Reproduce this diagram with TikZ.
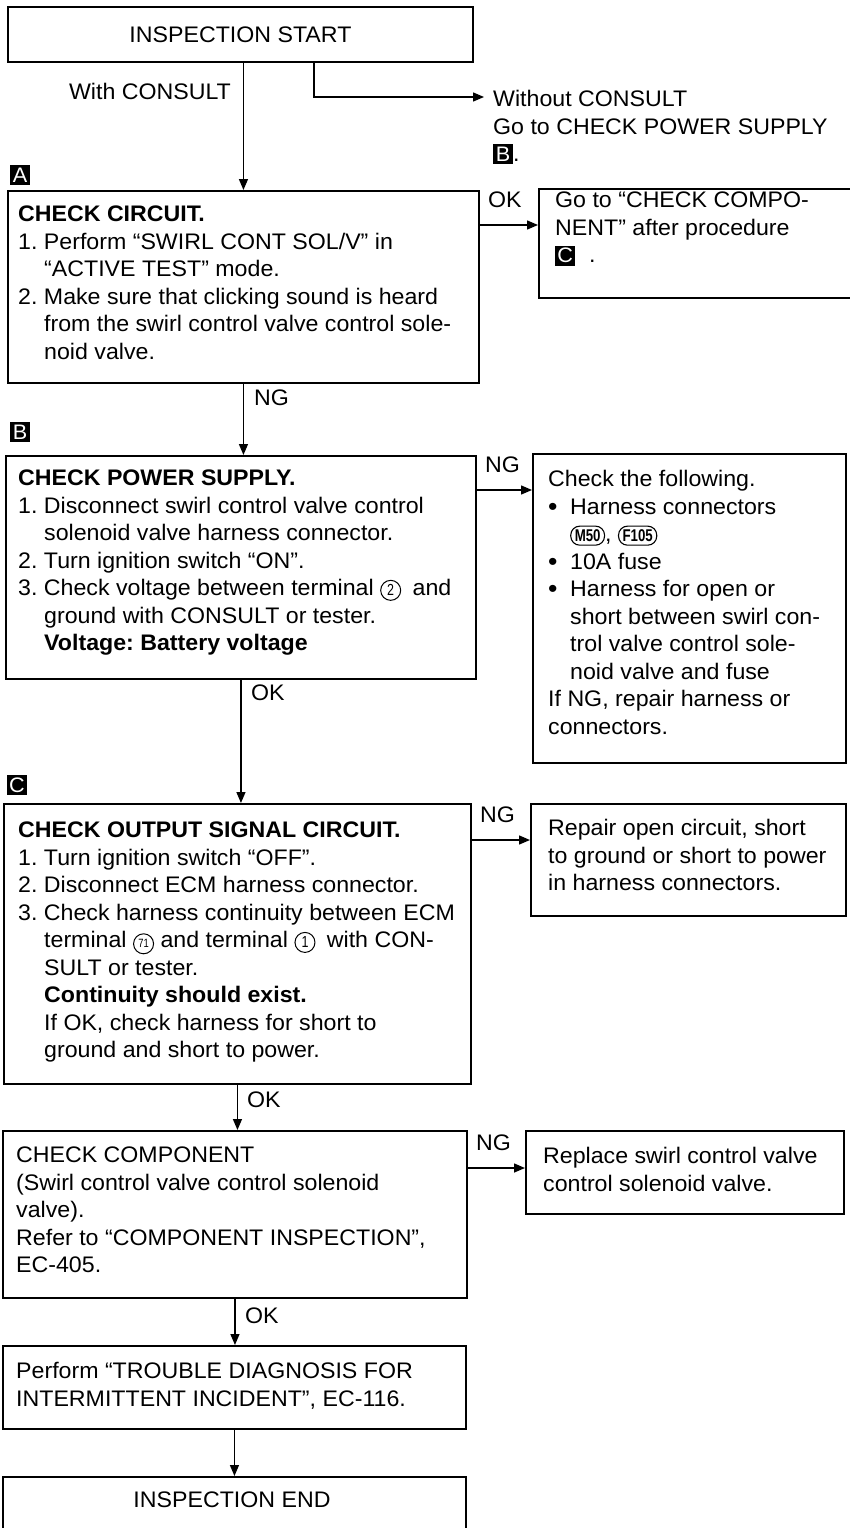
\documentclass[tikz,border=0pt]{standalone}
\usepackage{fontspec}
\setmainfont{Liberation Sans}[FakeStretch=1.03]
\newfontfamily\condfont{Liberation Sans}[FakeStretch=0.78]
\usetikzlibrary{arrows.meta,calc}

\newcommand{\cnum}[2][16]{\tikz[baseline=(cnumnode.base)]\node[draw,circle,line width=1pt,inner sep=0pt,minimum size=20pt,font=\condfont\fontsize{#1}{#1}\selectfont](cnumnode){#2};}
\newcommand{\conn}[1]{\tikz[baseline=(connnode.base)]\node[draw,rounded corners=9pt,line width=1.1pt,inner xsep=4pt,inner ysep=3.5pt,font=\condfont\bfseries\fontsize{17}{17}\selectfont](connnode){#1};}
\newcommand{\lbl}[1]{\tikz[baseline=(lblnode.base)]\node[fill=black,text=white,minimum size=20pt,inner sep=0pt,font=\fontsize{21}{21}\selectfont](lblnode){#1};}
\newcommand{\bul}{\makebox[22pt][l]{\raisebox{-1pt}{\fontsize{26}{26}\selectfont•}}}
\newcommand{\ind}{\hspace*{26pt}}
\newcommand{\bind}{\hspace*{22pt}}

\begin{document}
\frenchspacing
\begin{tikzpicture}[x=1pt,y=1pt,
  box/.style={draw,line width=1.9pt,anchor=north west,inner sep=0pt},
  txt/.style={anchor=north west,inner sep=0pt,align=left,font=\frenchspacing\fontsize{22.5}{27.5}\selectfont},
  lab/.style={anchor=west,inner sep=0pt,font=\fontsize{22.5}{27.5}\selectfont},
  ctr/.style={inner sep=0pt,font=\fontsize{22.5}{27.5}\selectfont},
  arr/.style={line width=1.4pt,-{Triangle[length=11pt,width=9pt]}},
  sq/.style={fill=black,text=white,minimum size=20pt,inner sep=0pt,font=\fontsize{21}{21}\selectfont}]
\useasboundingbox (0,0) rectangle (849,-1528);
\fill[white] (0,0) rectangle (849,-1528);

% ---------- boxes ----------
\node[box,minimum width=465pt,minimum height=55pt] (start) at (7,-6) {};
\node[box,minimum width=471pt,minimum height=192pt] (A) at (7,-190) {};
\node[box,minimum width=320pt,minimum height=109pt] (goto) at (538,-188) {};
\node[box,minimum width=470pt,minimum height=223pt] (B) at (5,-455) {};
\node[box,minimum width=313pt,minimum height=309pt] (Bng) at (532,-453) {};
\node[box,minimum width=467pt,minimum height=280pt] (C) at (3,-803) {};
\node[box,minimum width=315pt,minimum height=112pt] (Cng) at (530,-803) {};
\node[box,minimum width=464pt,minimum height=167pt] (D) at (2,-1130) {};
\node[box,minimum width=318pt,minimum height=83pt] (Dng) at (525,-1130) {};
\node[box,minimum width=463pt,minimum height=83pt] (E) at (2,-1345) {};
\node[box,minimum width=463pt,minimum height=80pt] (F) at (2,-1476) {};

% ---------- label squares ----------
\node[sq] (sqA) at (20,-175) {A};
\node[sq] (sqB) at (20,-432) {B};
\node[sq] (sqC) at (17,-785) {C};

% ---------- texts ----------
\node[ctr] (startT) at (start.center) {INSPECTION START};
\node[ctr] (withT) at (150,-91) {With CONSULT};
\node[txt] (woT) at (493,-90) {Without CONSULT\\Go to CHECK POWER SUPPLY\\\lbl{B}.};

\node[txt] (AT) at (18,-206) {\textbf{CHECK CIRCUIT.}\\
1. Perform “SWIRL CONT SOL/V” in\\
\ind“ACTIVE TEST” mode.\\
2. Make sure that clicking sound is heard\\
\ind from the swirl control valve control sole-\\
\ind noid valve.};

\node[txt] (gotoT) at (555,-192) {Go to “CHECK COMPO-\\NENT” after procedure\\\lbl{C}\hspace{14pt}.};

\node[txt] (BT) at (18,-470) {\textbf{CHECK POWER SUPPLY.}\\
1. Disconnect swirl control valve control\\
\ind solenoid valve harness connector.\\
2. Turn ignition switch “ON”.\\
3. Check voltage between terminal \cnum{2}\hspace{5pt} and\\
\ind ground with CONSULT or tester.\\
\ind\textbf{Voltage: Battery voltage}};

\node[txt] (BngT) at (548,-470) {Check the following.\\
\bul Harness connectors\\
\bind\conn{M50}, \conn{F105}\\
\bul 10A fuse\\
\bul Harness for open or\\
\bind short between swirl con-\\
\bind trol valve control sole-\\
\bind noid valve and fuse\\
If NG, repair harness or\\
connectors.};

\node[txt] (CT) at (18,-822) {\textbf{CHECK OUTPUT SIGNAL CIRCUIT.}\\
1. Turn ignition switch “OFF”.\\
2. Disconnect ECM harness connector.\\
3. Check harness continuity between ECM\\
\ind terminal \cnum[12]{71} and terminal \cnum{1}\hspace{5pt} with CON-\\
\ind SULT or tester.\\
\ind\textbf{Continuity should exist.}\\
\ind If OK, check harness for short to\\
\ind ground and short to power.};

\node[txt] (CngT) at (548,-819) {Repair open circuit, short\\to ground or short to power\\in harness connectors.};

\node[txt] (DT) at (16,-1147) {CHECK COMPONENT\\
(Swirl control valve control solenoid\\
valve).\\
Refer to “COMPONENT INSPECTION”,\\
EC-405.};

\node[txt] (DngT) at (543,-1147) {Replace swirl control valve\\control solenoid valve.};

\node[txt] (ET) at (16,-1362) {Perform “TROUBLE DIAGNOSIS FOR\\INTERMITTENT INCIDENT”, EC-116.};

\node[ctr] (FT) at (232,-1500) {INSPECTION END};

% ---------- connector labels ----------
\node[lab] (okA) at (488,-200) {OK};
\node[lab] (ngA) at (254,-398) {NG};
\node[lab] (ngB) at (485,-465) {NG};
\node[lab] (okB) at (251,-693) {OK};
\node[lab] (ngC) at (480,-815) {NG};
\node[lab] (okC) at (247,-1100) {OK};
\node[lab] (ngD) at (476,-1143) {NG};
\node[lab] (okD) at (245,-1316) {OK};

% ---------- connectors ----------
\coordinate (wbend) at (314,-97);
\coordinate (wend) at (484,-97);
\coordinate (yA) at (0,-225);
\coordinate (yB) at (0,-490);
\coordinate (yC) at (0,-840);
\coordinate (yD) at (0,-1168);

\draw[arr] (start.south -| A.north) -- (A.north);
\draw[arr] (start.south -| wbend) |- (wend);
\draw[arr] (A.east |- yA) -- (goto.west |- yA);
\draw[arr] (A.south) -- (A.south |- B.north);
\draw[arr] (B.east |- yB) -- (Bng.west |- yB);
\draw[arr] (B.south) -- (B.south |- C.north);
\draw[arr] (C.east |- yC) -- (Cng.west |- yC);
\draw[arr] (C.south) -- (C.south |- D.north);
\draw[arr] (D.east |- yD) -- (Dng.west |- yD);
\draw[arr] (D.south) -- (D.south |- E.north);
\draw[arr] (E.south) -- (E.south |- F.north);
\end{tikzpicture}
\end{document}
